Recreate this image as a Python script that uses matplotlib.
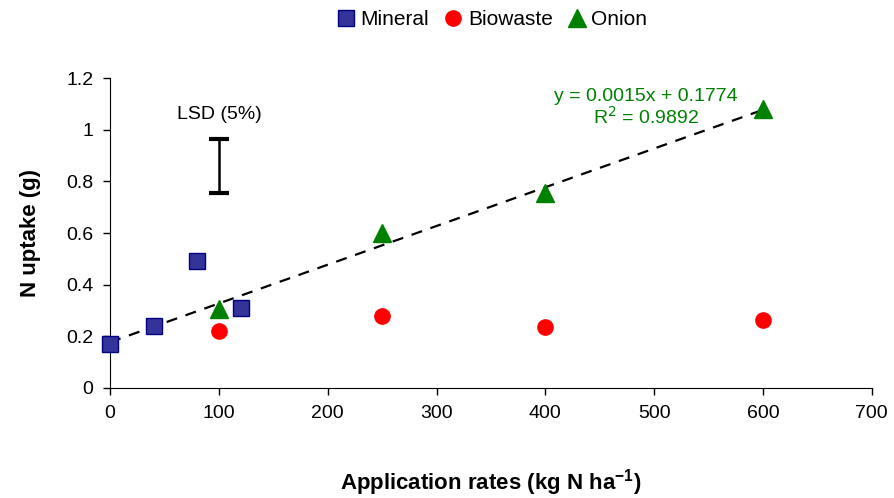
import matplotlib.pyplot as plt
import numpy as np

plt.rcParams['font.family'] = ['Liberation Sans', 'DejaVu Sans']

# datos
mineral_x = [0, 40, 80, 120]
mineral_y = [0.17, 0.24, 0.49, 0.31]
bio_x = [100, 250, 400, 600]
bio_y = [0.22, 0.28, 0.235, 0.265]
onion_x = [100, 250, 400, 600]
onion_y = [0.305, 0.60, 0.755, 1.08]

# recta de tendencia (coeficientes del grafico)
slope = 0.0015
intercept = 0.1774
trend_x = [0, 600]

lsd_x = 100
lsd_center = 0.86
lsd_half = 0.105

fig = plt.figure(figsize=(8.95, 4.98), dpi=100)
ax = fig.add_axes([0.123, 0.221, 0.851, 0.622])

tx = np.array(trend_x)
ax.plot(tx, slope * tx + intercept, color='black', ls=(0, (5, 4)), lw=1.6, zorder=2)

ax.plot(mineral_x, mineral_y, 's', ms=11.5, mfc='#333399', mec='#000080', mew=1,
        label='Mineral', zorder=3, clip_on=False)
ax.plot(bio_x, bio_y, 'o', ms=11, mfc='#ff0000', mec='#ff0000', label='Biowaste', zorder=3)
ax.plot(onion_x, onion_y, '^', ms=12.5, mfc='#008000', mec='#008000', label='Onion', zorder=3)

ax.errorbar([lsd_x], [lsd_center], yerr=[lsd_half], fmt='none', ecolor='black',
            elinewidth=1.8, capsize=7, capthick=3)
ax.text(lsd_x, 1.06, 'LSD (5%)', ha='center', va='center', fontsize=14)

ax.text(0.704, 0.905, 'y = 0.0015x + 0.1774\nR$^2$ = 0.9892', transform=ax.transAxes,
        ha='center', va='center', color='#008000', fontsize=14, linespacing=1.05)

ax.set_xlim(0, 700)
ax.set_ylim(0, 1.2)
ax.set_xticks(range(0, 701, 100))
ax.set_yticks([0, 0.2, 0.4, 0.6, 0.8, 1.0, 1.2])
ax.set_yticklabels(['0', '0.2', '0.4', '0.6', '0.8', '1', '1.2'])
ax.tick_params(labelsize=14, direction='out', length=5, width=1, pad=7)
ax.spines['top'].set_visible(False)
ax.spines['right'].set_visible(False)

ax.set_xlabel('Application rates (kg N ha$^{\\mathregular{-1}}$)', fontsize=16, fontweight='bold', labelpad=33)
ax.set_ylabel('N uptake (g)', fontsize=16, fontweight='bold', labelpad=18)

ax.legend(loc='center', bbox_to_anchor=(0.5, 1.19), ncol=3, frameon=False,
          fontsize=15, handletextpad=0.15, columnspacing=0.6, handlelength=1.1, numpoints=1)

plt.savefig('out.png', dpi=100)
